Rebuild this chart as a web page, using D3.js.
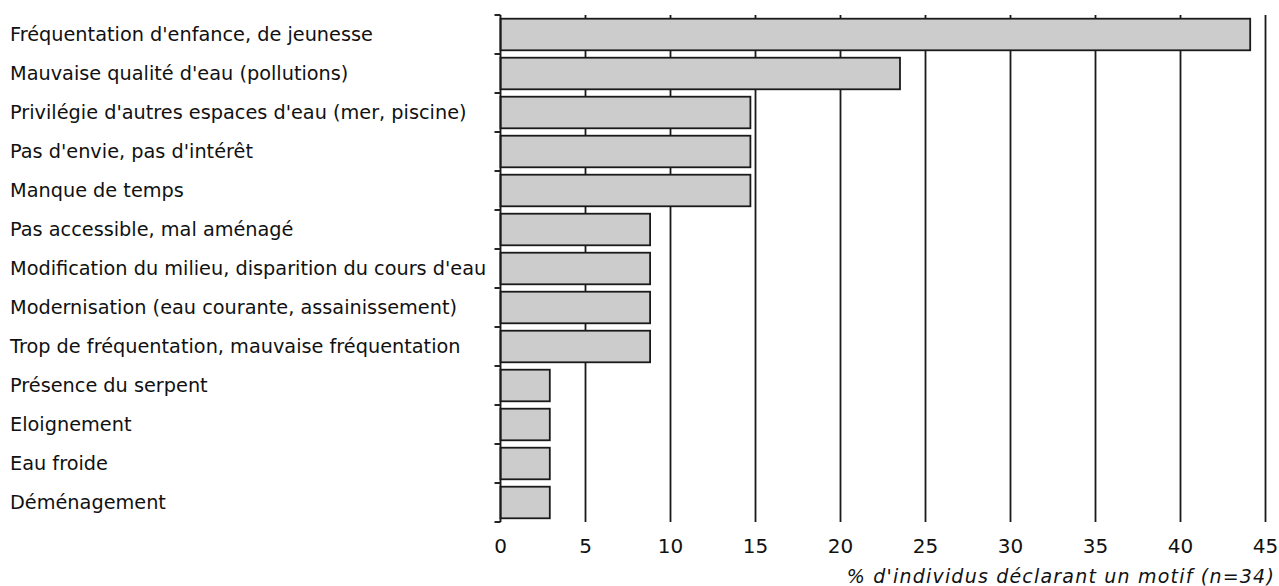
<!DOCTYPE html>
<html>
<head>
<meta charset="utf-8">
<script src="https://cdn.jsdelivr.net/npm/d3@7"></script>
<style>
  body { margin: 0; background: white; }
  text { font-family: "DejaVu Sans", sans-serif; fill: #111; }
</style>
</head>
<body>
<div id="chart"></div>
<script>
// motifs, in display order (top to bottom)
var categories = [
    "Fréquentation d'enfance, de jeunesse",
    "Mauvaise qualité d'eau (pollutions)",
    "Privilégie d'autres espaces d'eau (mer, piscine)",
    "Pas d'envie, pas d'intérêt",
    "Manque de temps",
    "Pas accessible, mal aménagé",
    "Modification du milieu, disparition du cours d'eau",
    "Modernisation (eau courante, assainissement)",
    "Trop de fréquentation, mauvaise fréquentation",
    "Présence du serpent",
    "Eloignement",
    "Eau froide",
    "Déménagement"
];
// % of individuals (n=34)
var values = [44.1, 23.5, 14.7, 14.7, 14.7, 8.8, 8.8, 8.8, 8.8, 2.9, 2.9, 2.9, 2.9];
var xTicks = [0, 5, 10, 15, 20, 25, 30, 35, 40, 45];
var axisTitle = "% d'individus déclarant un motif (n=34)";

var width = 1279, height = 586;
var margin = { top: 15, right: 13.5, bottom: 64, left: 500.5 };

var svg = d3.select("#chart").append("svg")
    .attr("width", width)
    .attr("height", height);

var x = d3.scaleLinear()
    .domain([0, 45])
    .range([margin.left, width - margin.right]);

var y = d3.scaleBand()
    .domain(categories)
    .range([margin.top, height - margin.bottom])
    .paddingInner(0.19)
    .paddingOuter(0.095);

var bandStep = y.step();
var y0 = margin.top, y1 = height - margin.bottom;

// vertical gridlines
svg.append("g")
    .selectAll("line")
    .data(xTicks.slice(1))
    .enter().append("line")
    .attr("x1", d => x(d)).attr("x2", d => x(d))
    .attr("y1", y0).attr("y2", y1)
    .attr("stroke", "#1a1a1a")
    .attr("stroke-width", 1.8);

// bars
svg.append("g")
    .selectAll("rect")
    .data(values)
    .enter().append("rect")
    .attr("x", x(0))
    .attr("y", (d, i) => y(categories[i]))
    .attr("width", d => x(d) - x(0))
    .attr("height", y.bandwidth())
    .attr("fill", "#cccccc")
    .attr("stroke", "#1a1a1a")
    .attr("stroke-width", 1.8);

// y axis line + boundary ticks
svg.append("line")
    .attr("x1", x(0)).attr("x2", x(0))
    .attr("y1", y0).attr("y2", y1)
    .attr("stroke", "#1a1a1a")
    .attr("stroke-width", 1.9);

svg.append("g")
    .selectAll("line")
    .data(d3.range(categories.length + 1))
    .enter().append("line")
    .attr("x1", x(0) - 6).attr("x2", x(0))
    .attr("y1", i => y0 + i * bandStep)
    .attr("y2", i => y0 + i * bandStep)
    .attr("stroke", "#1a1a1a")
    .attr("stroke-width", 1.9);

// category labels
svg.append("g")
    .selectAll("text")
    .data(categories)
    .enter().append("text")
    .attr("x", 10)
    .attr("y", d => y(d) + y.bandwidth() / 2)
    .attr("dy", "0.33em")
    .style("font-size", "19.3px")
    .text(d => d);

// x tick labels
svg.append("g")
    .selectAll("text")
    .data(xTicks)
    .enter().append("text")
    .attr("x", d => x(d))
    .attr("y", 553)
    .attr("text-anchor", "middle")
    .style("font-size", "20px")
    .text(d => d);

// axis title
svg.append("text")
    .attr("x", 1275)
    .attr("y", 583)
    .attr("text-anchor", "end")
    .style("font-size", "19px")
    .style("font-style", "italic")
    .style("letter-spacing", "1.2px")
    .text(axisTitle);
</script>
</body>
</html>
